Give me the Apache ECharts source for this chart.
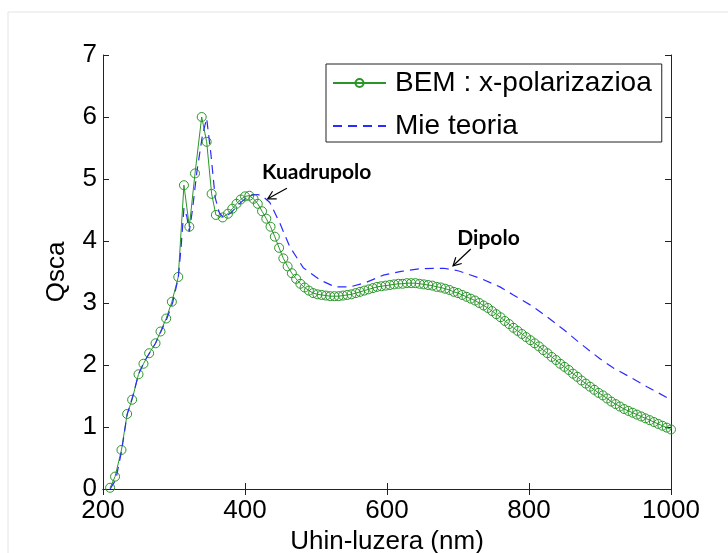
<!DOCTYPE html>
<html>
<head>
<meta charset="utf-8">
<script src="https://cdn.jsdelivr.net/npm/echarts@6/dist/echarts.min.js"></script>
<style>
  html, body { margin: 0; padding: 0; background: #fff; }
  #main { width: 728px; height: 553px; }
</style>
</head>
<body>
<div id="main"></div>
<script>
// BEM (circles)
var bemWavelength = [210, 217, 226, 234, 241, 250, 257, 265, 274, 281, 289, 297, 306, 314, 321.6, 329.6, 339, 346, 353, 359, 368.6,
  376, 382, 388, 394, 400, 406, 412, 418, 424, 430, 436, 442, 448, 454, 460, 466, 472, 478, 484, 490, 496,
  502, 508, 514, 520, 526, 532, 538, 544, 550, 556, 562, 568, 574, 580, 586, 592, 598,
  604, 610, 616, 622, 628, 634, 640, 646, 652, 658, 664, 670, 676, 682, 688, 694, 700,
  706, 712, 718, 724, 730, 736, 742, 748, 754, 760, 766, 772, 778, 784, 790, 796,
  802, 808, 814, 820, 826, 832, 838, 844, 850, 856, 862, 868, 874, 880, 886, 892, 898,
  904, 910, 916, 922, 928, 934, 940, 946, 952, 958, 964, 970, 976, 982, 988, 994, 1000];
var bemQsca = [0.02, 0.2, 0.63, 1.21, 1.44, 1.85, 2.02, 2.19, 2.35, 2.54, 2.75, 3.02, 3.42, 4.9, 4.23, 5.09, 6.0, 5.6, 4.76, 4.42, 4.38,
  4.44, 4.52, 4.6, 4.67, 4.72, 4.73, 4.68, 4.6, 4.48, 4.36, 4.23, 4.07, 3.89, 3.72, 3.59, 3.48, 3.39, 3.31, 3.25, 3.2, 3.16,
  3.14, 3.13, 3.12, 3.11, 3.11, 3.11, 3.12, 3.13, 3.14, 3.16, 3.18, 3.2, 3.22, 3.24, 3.26, 3.27, 3.28,
  3.29, 3.3, 3.31, 3.31, 3.32, 3.32, 3.32, 3.31, 3.3, 3.29, 3.28, 3.26, 3.25, 3.23, 3.21, 3.18, 3.16,
  3.13, 3.1, 3.07, 3.04, 3.0, 2.96, 2.92, 2.87, 2.82, 2.77, 2.71, 2.66, 2.6, 2.55, 2.5, 2.45,
  2.4, 2.35, 2.3, 2.24, 2.19, 2.13, 2.08, 2.02, 1.97, 1.92, 1.86, 1.81, 1.75, 1.7, 1.65, 1.6, 1.55,
  1.51, 1.46, 1.41, 1.37, 1.33, 1.29, 1.26, 1.23, 1.2, 1.17, 1.14, 1.11, 1.08, 1.05, 1.02, 0.99, 0.96];

// Mie theory (dashed line)
var mieWavelength = [210, 218, 226, 234, 242, 250, 258, 266, 274, 282, 290, 298, 306, 310, 314, 318, 321.5, 326, 332, 340, 346,
  352, 358, 364, 370, 380, 390, 400, 410, 418, 425, 435, 449, 463, 482, 506, 527, 548, 570, 595, 620, 645, 665, 680,
  700, 731, 759, 778, 806, 825, 850, 872, 900, 919, 940, 966, 1000];
var mieQsca = [0.0, 0.15, 0.6, 1.2, 1.5, 1.85, 2.05, 2.2, 2.35, 2.55, 2.75, 3.0, 3.4, 3.9, 4.53, 4.4, 4.15, 4.5, 5.1, 5.7, 5.98,
  5.4, 4.7, 4.45, 4.38, 4.45, 4.58, 4.68, 4.74, 4.75, 4.72, 4.62, 4.29, 3.91, 3.57, 3.37, 3.26, 3.26, 3.33, 3.45, 3.51, 3.55, 3.56, 3.56,
  3.52, 3.4, 3.26, 3.13, 2.94, 2.78, 2.56, 2.35, 2.1, 1.95, 1.82, 1.65, 1.44];

// annotations: [text, text pos, arrow tail, arrow tip] in data units
var notes = [
  ['Kuadrupolo', [424, 5.11], [459, 4.85], [432, 4.68]],
  ['Dipolo', [699, 4.05], [718, 3.87], [693, 3.6]]
];

var green = '#2a962a';
var blue = '#2b2bff';
var axisColor = '#222';
var font = 'Liberation Sans, Arial, sans-serif';

function pairs(xs, ys) {
  return xs.map(function (x, i) { return [x, ys[i]]; });
}

var myChart = echarts.init(document.getElementById('main'));

var option = {
  animation: false,
  backgroundColor: '#fff',
  grid: { left: 103, right: 57, top: 55, bottom: 64, outerBoundsMode: 'none', containLabel: false },
  legend: {
    orient: 'vertical',
    left: 326,
    top: 64,
    backgroundColor: '#fff',
    borderColor: axisColor,
    borderWidth: 1,
    borderRadius: 0,
    padding: [5, 10, 2, 6],
    itemWidth: 53,
    itemHeight: 10,
    itemGap: 15,
    z: 10,
    textStyle: { fontSize: 28, fontFamily: font, color: '#000', padding: [0, 0, 0, 4] },
    data: [
      { name: 'BEM : x-polarizazioa' },
      { name: 'Mie teoria', itemStyle: { color: 'rgba(0,0,0,0)', borderWidth: 0 } }
    ]
  },
  xAxis: [{
    type: 'value', min: 200, max: 1000, interval: 200,
    name: 'Uhin-luzera (nm)', nameLocation: 'middle', nameGap: 38,
    nameTextStyle: { fontSize: 26, fontFamily: font, color: '#000' },
    axisLine: { lineStyle: { color: axisColor, width: 1 } },
    axisTick: { inside: true, length: 6, lineStyle: { color: axisColor } },
    axisLabel: { fontSize: 26, fontFamily: font, color: '#000', margin: 9, formatter: function (v) { return String(v); } },
    splitLine: { show: false }
  }, {
    type: 'value', min: 200, max: 1000, interval: 200, position: 'top',
    axisLine: { lineStyle: { color: axisColor, width: 1 } },
    axisTick: { inside: true, length: 6, lineStyle: { color: axisColor } },
    axisLabel: { show: false },
    splitLine: { show: false }
  }],
  yAxis: [{
    type: 'value', min: 0, max: 7, interval: 1,
    name: 'Qsca', nameLocation: 'middle', nameGap: 33, nameRotate: 90,
    nameTextStyle: { fontSize: 26, fontFamily: font, color: '#000' },
    axisLine: { show: true, lineStyle: { color: axisColor, width: 1 } },
    axisTick: { show: true, inside: true, length: 6, lineStyle: { color: axisColor } },
    axisLabel: { fontSize: 26, fontFamily: font, color: '#000', margin: 6 },
    splitLine: { show: false }
  }, {
    type: 'value', min: 0, max: 7, interval: 1, position: 'right',
    axisLine: { show: true, lineStyle: { color: axisColor, width: 1 } },
    axisTick: { show: true, inside: true, length: 6, lineStyle: { color: axisColor } },
    axisLabel: { show: false },
    splitLine: { show: false }
  }],
  series: [{
    name: 'BEM : x-polarizazioa',
    type: 'line',
    data: pairs(bemWavelength, bemQsca),
    symbol: 'circle',
    symbolSize: 9,
    showSymbol: true,
    showAllSymbol: true,
    lineStyle: { color: green, width: 1 },
    itemStyle: { color: 'rgba(255,255,255,0)', borderColor: green, borderWidth: 1 },
    z: 2
  }, {
    name: 'Mie teoria',
    type: 'line',
    data: pairs(mieWavelength, mieQsca),
    symbol: 'none',
    lineStyle: { color: blue, width: 1.2, type: [9, 6] },
    itemStyle: { color: blue },
    z: 3
  }]
};
myChart.setOption(option);

// frame + annotations in pixel space, converted from data units
var graphics = [{
  type: 'rect', shape: { x: 8, y: 12, width: 740, height: 560 },
  style: { fill: 'none', stroke: '#e4e4e4', lineWidth: 1 }, silent: true, z: -1
}];
notes.forEach(function (n) {
  var t = myChart.convertToPixel({ gridIndex: 0 }, n[1]);
  var a = myChart.convertToPixel({ gridIndex: 0 }, n[2]);
  var b = myChart.convertToPixel({ gridIndex: 0 }, n[3]);
  graphics.push({
    type: 'text', x: t[0], y: t[1],
    style: { text: n[0], fontSize: 21, fontWeight: 'bold', fontFamily: 'Lato, sans-serif', fill: '#000', verticalAlign: 'middle' },
    z: 20
  });
  var ang = Math.atan2(a[1] - b[1], a[0] - b[0]);
  var len = 9, sp = 0.5;
  graphics.push({
    type: 'line', shape: { x1: a[0], y1: a[1], x2: b[0], y2: b[1] },
    style: { stroke: '#000', lineWidth: 1.2 }, z: 20
  });
  graphics.push({
    type: 'polyline',
    shape: { points: [
      [b[0] + len * Math.cos(ang + sp), b[1] + len * Math.sin(ang + sp)],
      [b[0], b[1]],
      [b[0] + len * Math.cos(ang - sp), b[1] + len * Math.sin(ang - sp)]
    ] },
    style: { stroke: '#000', lineWidth: 1.2, fill: 'none' }, z: 20
  });
});
myChart.setOption({ graphic: graphics });
</script>
</body>
</html>
